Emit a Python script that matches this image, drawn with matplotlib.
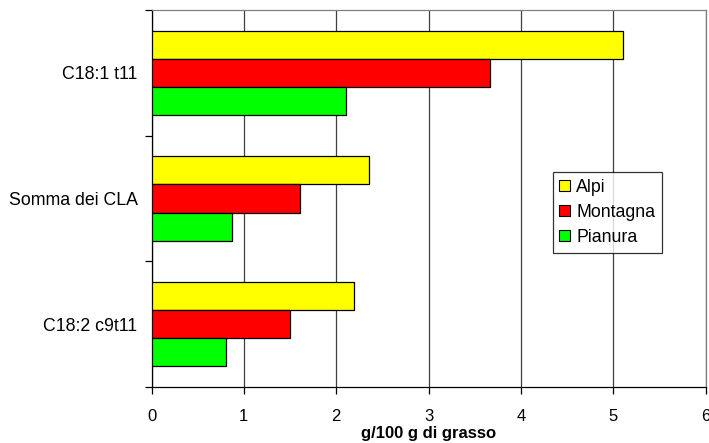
import matplotlib
matplotlib.use("Agg")
import matplotlib.pyplot as plt
import numpy as np
from matplotlib.ticker import FixedLocator

plt.rcParams['font.family'] = ['Liberation Sans', 'DejaVu Sans']

categories = ["C18:1 t11", "Somma dei CLA", "C18:2 c9t11"]
series_names = ["Alpi", "Montagna", "Pianura"]
alpi = [5.10, 2.36, 2.19]
montagna = [3.67, 1.61, 1.50]
pianura = [2.11, 0.87, 0.81]
colors = ["#ffff00", "#ff0000", "#00ff00"]
x_ticks = [0, 1, 2, 3, 4, 5, 6]

W, H = 709, 443
fig = plt.figure(figsize=(W / 100, H / 100), dpi=100)
ax = fig.add_axes([151.5 / W, 1 - 387 / H, (705.7 - 151.5) / W, (387 - 10) / H])

pos = np.arange(len(categories))
bh = 0.223
for i, (vals, col, name) in enumerate(zip([alpi, montagna, pianura], colors, series_names)):
    ax.barh(pos + (i - 1) * bh, vals, height=bh, color=col, edgecolor="black",
            linewidth=0.9, label=name, zorder=3)

ax.set_xlim(0, 6)
ax.set_ylim(len(categories) - 0.5, -0.5)
ax.set_xticks(x_ticks)
ax.set_xticklabels([str(t) for t in x_ticks], fontsize=12)
ax.tick_params(axis="x", direction="out", length=5, width=0.9, pad=11, color="black")

ax.yaxis.set_major_locator(FixedLocator([-0.5, 0.5, 1.5, 2.5]))
ax.yaxis.set_minor_locator(FixedLocator(pos))
ax.set_yticklabels([], minor=False)
ax.set_yticklabels(categories, minor=True, fontsize=12.8)
ax.tick_params(axis="y", which="major", direction="out", length=5, width=0.9)
ax.tick_params(axis="y", which="minor", length=0, pad=10)

ax.grid(axis="x", color="#404040", linewidth=0.9, zorder=0)
ax.set_axisbelow(True)

for s in ["left", "bottom"]:
    ax.spines[s].set_color("black")
    ax.spines[s].set_linewidth(0.9)
for s in ["top", "right"]:
    ax.spines[s].set_color("#808080")
    ax.spines[s].set_linewidth(0.9)

ax.set_xlabel("g/100 g di grasso", fontsize=12, fontweight="bold", labelpad=1)

leg = ax.legend(loc="upper left", bbox_to_anchor=((552.7 - 151.5) / (705.7 - 151.5), (387 - 172) / 377),
                fontsize=12.8, frameon=True, fancybox=False, edgecolor="black",
                handlelength=0.6, handleheight=0.6, handletextpad=0.35,
                labelspacing=0.45, borderpad=0.38, borderaxespad=0)
leg.get_frame().set_linewidth(0.9)
for h in leg.legend_handles:
    h.set_linewidth(0.8)

fig.savefig("out.png", dpi=100, facecolor="white")
